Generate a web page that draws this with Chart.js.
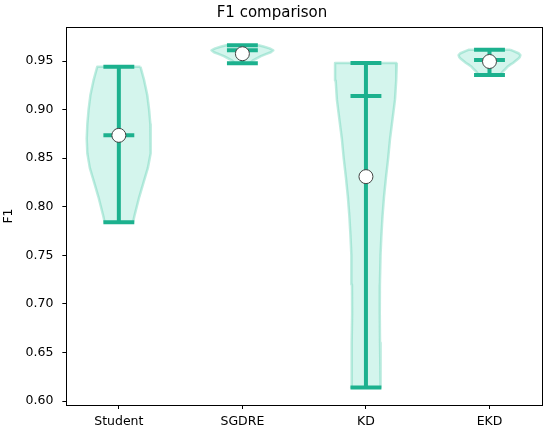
<!DOCTYPE html>
<html>
<head>
<meta charset="utf-8">
<script src="https://cdn.jsdelivr.net/npm/chart.js@4"></script>
<style>
  html, body { margin: 0; padding: 0; background: #fff; }
  #wrap { width: 550px; height: 435px; }
</style>
</head>
<body>
<div id="wrap"><canvas id="violinChart"></canvas></div>
<script>
// categories and summary values
const categories = ['Student', 'SGDRE', 'KD', 'EKD'];
const mins    = [0.784, 0.9477, 0.614, 0.9355];
const maxs    = [0.944, 0.9663, 0.948, 0.9615];
const medians = [0.8735, 0.961, 0.914, 0.951];
const means   = [0.8735, 0.9575, 0.831, 0.9495];
const yTicks  = [0.60, 0.65, 0.70, 0.75, 0.80, 0.85, 0.90, 0.95];

// violin outlines: F1 levels (top to bottom) and half widths
const studentLevels = [0.944, 0.93, 0.915, 0.90, 0.885, 0.87, 0.855, 0.84, 0.825, 0.81, 0.80, 0.79, 0.784];
const studentWidths = [0.175, 0.205, 0.23, 0.245, 0.255, 0.26, 0.255, 0.235, 0.20, 0.165, 0.145, 0.125, 0.115];
const sgdreLevels = [0.9663, 0.965, 0.963, 0.961, 0.959, 0.957, 0.955, 0.953, 0.951, 0.949, 0.9477];
const sgdreWidths = [0.13, 0.17, 0.22, 0.25, 0.23, 0.19, 0.15, 0.12, 0.09, 0.07, 0.06];
const kdLevels = [0.948, 0.93, 0.91, 0.89, 0.87, 0.85, 0.83, 0.81, 0.79, 0.77, 0.75, 0.72, 0.69, 0.66, 0.63, 0.614];
const kdWidths = [0.25, 0.245, 0.235, 0.215, 0.195, 0.18, 0.162, 0.146, 0.134, 0.125, 0.118, 0.113, 0.112, 0.114, 0.117, 0.12];
const ekdLevels = [0.9615, 0.96, 0.958, 0.956, 0.954, 0.952, 0.95, 0.948, 0.946, 0.944, 0.942, 0.94, 0.938, 0.9355];
const ekdWidths = [0.17, 0.2, 0.235, 0.25, 0.245, 0.23, 0.21, 0.19, 0.165, 0.145, 0.13, 0.115, 0.1, 0.09];

const violinLevels = [studentLevels, sgdreLevels, kdLevels, ekdLevels];
const violinWidths = [studentWidths, sgdreWidths, kdWidths, ekdWidths];

const teal = '#1cb18e';
const capHalf = 0.125;

const datasets = [];

// violin bodies
categories.forEach((name, i) => {
  const pos = i + 1;
  const lv = violinLevels[i], wd = violinWidths[i];
  const pts = [];
  lv.forEach((v, k) => pts.push({x: pos + wd[k], y: v}));
  for (let k = lv.length - 1; k >= 0; k--) pts.push({x: pos - wd[k], y: lv[k]});
  pts.push(pts[0]);
  datasets.push({
    label: name + ' body',
    data: pts,
    showLine: true,
    fill: 'shape',
    backgroundColor: 'rgba(100, 220, 190, 0.28)',
    borderColor: 'rgba(100, 210, 180, 0.42)',
    borderWidth: 2.5,
    borderJoinStyle: 'round',
    pointRadius: 0,
    tension: 0,
    order: 3
  });
});

// whiskers, caps and median bars
categories.forEach((name, i) => {
  const pos = i + 1;
  const segs = [
    [{x: pos, y: mins[i]}, {x: pos, y: maxs[i]}],
    [{x: pos - capHalf, y: mins[i]}, {x: pos + capHalf, y: mins[i]}],
    [{x: pos - capHalf, y: maxs[i]}, {x: pos + capHalf, y: maxs[i]}],
    [{x: pos - capHalf, y: medians[i]}, {x: pos + capHalf, y: medians[i]}]
  ];
  segs.forEach(seg => datasets.push({
    data: seg,
    showLine: true,
    borderColor: teal,
    borderWidth: 4,
    borderCapStyle: 'butt',
    pointRadius: 0,
    fill: false,
    order: 2
  }));
});

// mean markers
datasets.push({
  label: 'mean',
  data: means.map((m, i) => ({x: i + 1, y: m})),
  showLine: false,
  pointRadius: 7,
  pointBackgroundColor: '#ffffff',
  pointBorderColor: '#444444',
  pointBorderWidth: 1,
  order: 1
});

const font = {family: 'DejaVu Sans', size: 12.5};

new Chart(document.getElementById('violinChart'), {
  type: 'scatter',
  data: { datasets },
  options: {
    responsive: true,
    maintainAspectRatio: false,
    animation: false,
    layout: { padding: { left: 0, right: 6, top: 0, bottom: 0 } },
    plugins: {
      legend: { display: false },
      tooltip: { enabled: false },
      title: {
        display: true,
        text: 'F1 comparison',
        color: '#000',
        font: {family: 'DejaVu Sans', size: 15, weight: 'normal'},
        padding: { top: 4, bottom: 5 }
      }
    },
    scales: {
      x: {
        type: 'linear',
        min: 0.575,
        max: 4.425,
        afterBuildTicks: axis => { axis.ticks = categories.map((c, i) => ({value: i + 1})); },
        ticks: {
          autoSkip: false,
          maxRotation: 0,
          padding: 5.5,
          color: '#000',
          font,
          callback: v => categories[Math.round(v) - 1]
        },
        grid: { display: true, drawOnChartArea: false, drawTicks: true, tickLength: 4, color: '#000' },
        border: { display: true, color: '#000', width: 1 }
      },
      y: {
        min: 0.596,
        max: 0.985,
        afterBuildTicks: axis => { axis.ticks = yTicks.map(v => ({value: v})); },
        ticks: {
          padding: 9,
          color: '#000',
          font,
          callback: v => v.toFixed(2)
        },
        title: {
          display: true,
          text: 'F1',
          color: '#000',
          font,
          padding: { top: 1.5, bottom: 0 }
        },
        grid: { display: true, drawOnChartArea: false, drawTicks: true, tickLength: 4, color: '#000' },
        border: { display: true, color: '#000', width: 1 }
      },
      x2: {
        type: 'linear',
        position: 'top',
        min: 0, max: 1,
        ticks: { display: false },
        grid: { display: false, drawTicks: false },
        border: { display: true, color: '#000', width: 1 }
      },
      y2: {
        type: 'linear',
        position: 'right',
        min: 0, max: 1,
        ticks: { display: false },
        grid: { display: false, drawTicks: false },
        border: { display: true, color: '#000', width: 1 }
      }
    }
  }
});
</script>
</body>
</html>
